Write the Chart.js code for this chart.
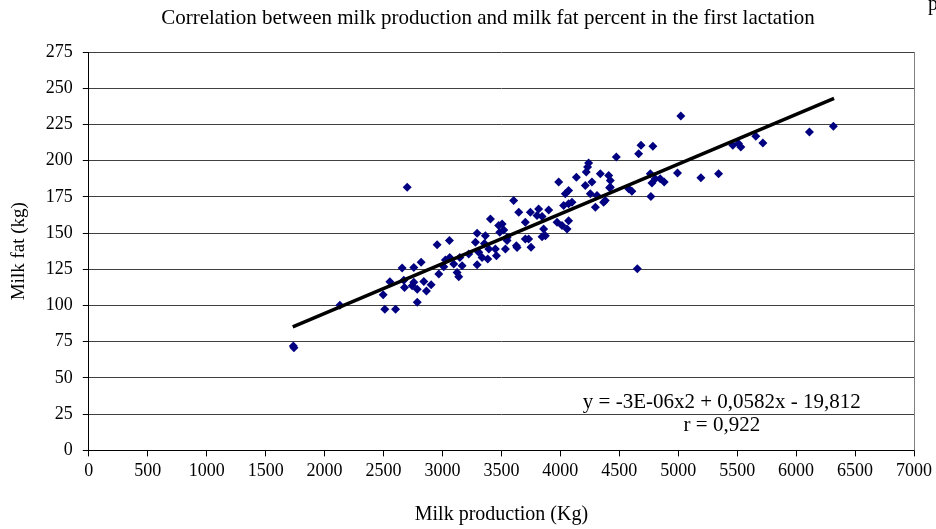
<!DOCTYPE html>
<html>
<head>
<meta charset="utf-8">
<script src="https://cdn.jsdelivr.net/npm/chart.js@4.4.1/dist/chart.umd.min.js"></script>
<style>
  html, body { margin: 0; padding: 0; background: #fff; }
  #wrap { width: 936px; height: 529px; position: relative; }
</style>
</head>
<body>
<div id="wrap"><canvas id="chart_milk"></canvas></div>
<script>
// milk production (kg) and milk fat (kg), one entry per cow
var milkProduction = [1735,1740,2130,2497,2511,2554,2602,2658,2672,2678,2701,2743,2757,2757,2786,2786,
  2819,2842,2864,2904,2955,2969,3011,3025,3059,3062,3096,3124,3138,3147,3167,3223,3280,3294,3294,3308,
  3336,3356,3364,3384,3393,3407,3449,3458,3477,3486,3506,3520,3534,3548,3548,3604,3627,3633,3647,3703,
  3703,3731,3746,3751,3802,3816,3845,3845,3858,3873,3901,3972,3986,4014,4028,4042,4057,4070,4070,4070,
  4099,4136,4212,4220,4231,4240,4254,4268,4297,4311,4339,4367,4381,4410,4418,4424,4424,4475,4579,4607,
  4653,4664,4684,4763,4768,4777,4785,4805,4847,4881,4994,5022,5192,5342,5463,5511,5531,5658,5718,6113,6316];
var milkFat = [72,70.9,100.2,107.4,97.4,116.4,97.4,125.9,117.5,112.4,181.7,113.6,126.3,116,111.3,102.3,
  129.8,116.6,110.1,114.3,142,121.7,126.8,131.4,144.8,133.2,128.6,122.8,119.8,133.2,127.5,135.5,143.6,149.9,128.1,136.7,
  133.2,142.9,148.2,132.1,139,159.8,139,134.4,155.2,150.5,156.3,152.2,139,147,144.8,172.5,141.3,140,164.4,157.5,
  146,146,164.4,140.2,162.1,166.7,161.4,147.5,152.9,148.2,166,157.5,185.2,155.2,169,177.1,152.9,179.4,170.2,158.6,
  171.3,188.6,182.9,192.1,195.6,198.3,177.1,185.2,167.8,176,191,171.3,172.5,189.8,181.3,186.3,181.7,202.5,180.6,178.9,
  125.4,204.8,210.6,191,175.3,184.5,209.9,187.5,187.5,185.2,191.4,230.9,188.2,191,210.6,211.8,209.4,216.8,212.2,219.8,223.7];

// trend line ends
var trendX = [1730, 6322];
var trendY = [85.3, 243];

var xTicks = { min: 0, max: 7000, step: 500 };
var yTicks = { min: 0, max: 275, step: 25 };

var chartTitle = 'Correlation between milk production and milk fat percent in the first lactation';
var equationText = 'y = -3E-06x2 + 0,0582x - 19,812';
var rText = 'r = 0,922';

var serif = '"Liberation Serif", "Times New Roman", serif';

var points = milkProduction.map(function(x, i){ return {x: x, y: milkFat[i]}; });
var trend = trendX.map(function(x, i){ return {x: x, y: trendY[i]}; });

var textPlugin = {
  id: 'texts',
  afterDraw: function(chart){
    var ctx = chart.ctx, a = chart.chartArea;
    ctx.save();
    // plot area right border
    ctx.strokeStyle = '#808080';
    ctx.lineWidth = 1;
    ctx.beginPath();
    ctx.moveTo(Math.round(a.right) + 0.5, a.top);
    ctx.lineTo(Math.round(a.right) + 0.5, a.bottom);
    ctx.stroke();
    ctx.fillStyle = '#000';
    ctx.font = '21px ' + serif;
    ctx.textAlign = 'center';
    ctx.textBaseline = 'middle';
    ctx.fillText(chartTitle, 488, 18);
    ctx.font = '20px ' + serif;
    ctx.fillText('p', 933, 5);
    ctx.font = '21px ' + serif;
    var sx = chart.scales.x, sy = chart.scales.y;
    ctx.fillText(equationText, sx.getPixelForValue(5370), sy.getPixelForValue(33));
    ctx.fillText(rText, sx.getPixelForValue(5370), sy.getPixelForValue(17));
    ctx.restore();
  }
};

new Chart(document.getElementById('chart_milk').getContext('2d'), {
  type: 'scatter',
  data: {
    datasets: [
      {
        label: 'trend',
        data: trend,
        showLine: true,
        borderColor: '#000',
        borderWidth: 3.5,
        pointRadius: 0,
        order: 0
      },
      {
        label: 'cows',
        data: points,
        pointStyle: 'rectRot',
        pointRadius: 4.5,
        backgroundColor: '#000080',
        borderColor: '#000080',
        borderWidth: 0,
        order: 1
      }
    ]
  },
  options: {
    responsive: true,
    maintainAspectRatio: false,
    animation: false,
    layout: { padding: { top: 52, right: 22, left: 8, bottom: 2 } },
    plugins: { legend: { display: false }, tooltip: { enabled: false } },
    scales: {
      x: {
        type: 'linear',
        min: xTicks.min, max: xTicks.max,
        ticks: { stepSize: xTicks.step, color: '#000', font: { family: serif, size: 18 }, padding: 4, maxRotation: 0, autoSkip: false,
          callback: function(v){ return String(v); } },
        grid: { drawOnChartArea: false, drawTicks: true, tickLength: 6, color: '#000' },
        border: { color: '#000', width: 1 },
        title: { display: true, text: 'Milk production (Kg)', color: '#000', font: { family: serif, size: 20 }, padding: { top: 17, bottom: 0 } }
      },
      y: {
        min: yTicks.min, max: yTicks.max,
        ticks: { stepSize: yTicks.step, color: '#000', font: { family: serif, size: 18 }, padding: 10 },
        grid: { color: '#404040', tickLength: 6, tickColor: '#000' },
        border: { color: '#000', width: 1 },
        title: { display: true, text: 'Milk fat (kg)', color: '#000', font: { family: serif, size: 19 }, padding: { top: 0, bottom: 5 } }
      }
    }
  },
  plugins: [textPlugin]
});
</script>
</body>
</html>
